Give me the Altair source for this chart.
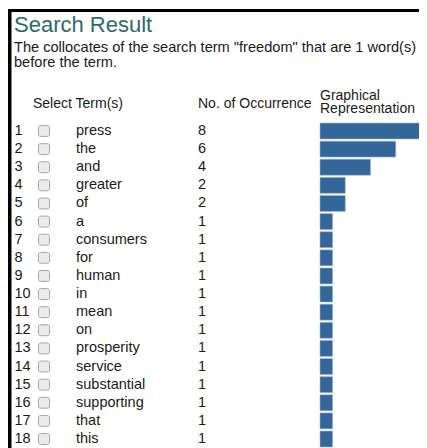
import altair as alt
import pandas as pd

rows = list(range(1, 19))
terms = ["press", "the", "and", "greater", "of", "a", "consumers", "for", "human",
         "in", "mean", "on", "prosperity", "service", "substantial", "supporting",
         "that", "this"]
counts = [8, 6, 4, 2, 2, 1, 1, 1, 1, 1, 1, 1, 1, 1, 1, 1, 1, 1]

df = pd.DataFrame({"row": rows, "term": terms, "count": counts})

FONT = "Liberation Sans"
TXT = "#1a1a1a"
FS = 14.5
yscale = alt.Scale(domain=[1, 18], range=[123, 431])
xscale = alt.Scale(domain=[0, 8], range=[312, 413])

base = alt.Chart(df)

row_num = base.mark_text(align="left", baseline="middle", font=FONT, fontSize=FS, color=TXT).encode(
    x=alt.value(6.5), y=alt.Y("row:Q", scale=yscale, axis=None), text="row:Q")

checks = base.transform_calculate(c0="datum.row - 0.3", c1="datum.row + 0.3").mark_rect(
    fill="#ebebeb", stroke="#a6a6a6", strokeWidth=1, cornerRadius=2).encode(
    x=alt.value(30.5), x2=alt.value(41.5),
    y=alt.Y("c0:Q", scale=yscale, axis=None), y2="c1:Q")

term_txt = base.mark_text(align="left", baseline="middle", font=FONT, fontSize=FS, color=TXT).encode(
    x=alt.value(68), y=alt.Y("row:Q", scale=yscale, axis=None), text="term:N")

cnt_txt = base.mark_text(align="left", baseline="middle", font=FONT, fontSize=FS, color=TXT).encode(
    x=alt.value(190), y=alt.Y("row:Q", scale=yscale, axis=None), text="count:Q")

bars = base.transform_calculate(b0="datum.row - 0.44", b1="datum.row + 0.44").mark_rect(
    fill="#336699", stroke="#9fb6d0", strokeWidth=0.6).encode(
    x=alt.X("count:Q", scale=xscale, axis=None), x2=alt.value(312),
    y=alt.Y("b0:Q", scale=yscale, axis=None), y2="b1:Q")

hdr = pd.DataFrame({"t": ["Select Term(s)", "No. of Occurrence", "Graphical", "Representation"],
                    "px": [25, 190, 312, 312], "py": [100, 100, 92, 105]})
headers = alt.Chart(hdr).mark_text(align="left", baseline="alphabetic", font=FONT, fontSize=14,
                                    color=TXT).encode(
    x=alt.X("px:Q", scale=alt.Scale(domain=[0, 411], range=[0, 411]), axis=None),
    y=alt.Y("py:Q", scale=alt.Scale(domain=[0, 440], range=[0, 440]), axis=None),
    text="t:N")

title = alt.Chart(pd.DataFrame({"t": ["Search Result"]})).mark_text(
    align="left", baseline="alphabetic", font=FONT, fontSize=22, color="#2d6a6a").encode(
    x=alt.value(6), y=alt.value(23.5), text="t:N")

sub = alt.Chart(pd.DataFrame({"t": ["The collocates of the search term \"freedom\" that are 1 word(s)",
                                    "before the term."], "k": [0, 1]})).mark_text(
    align="left", baseline="alphabetic", font=FONT, fontSize=14.6, color=TXT).encode(
    x=alt.value(6), y=alt.Y("k:Q", scale=alt.Scale(domain=[0, 1], range=[44, 59]), axis=None),
    text="t:N")

border_left = alt.Chart(pd.DataFrame({"a": [0]})).mark_rect(color="black").encode(
    x=alt.value(0), x2=alt.value(3.5), y=alt.value(1), y2=alt.value(440))
border_top = alt.Chart(pd.DataFrame({"a": [0]})).mark_rect(color="black").encode(
    x=alt.value(0), x2=alt.value(411), y=alt.value(1), y2=alt.value(4))

chart = alt.layer(border_left, border_top, title, sub, headers, row_num, checks, term_txt,
                  cnt_txt, bars).resolve_scale(y="independent", x="independent").properties(
    width=411, height=440, padding=0, autosize=alt.AutoSizeParams(type="none")
).configure_view(stroke=None)

chart.save("out.html", embed_options={"renderer": "svg", "actions": False})
